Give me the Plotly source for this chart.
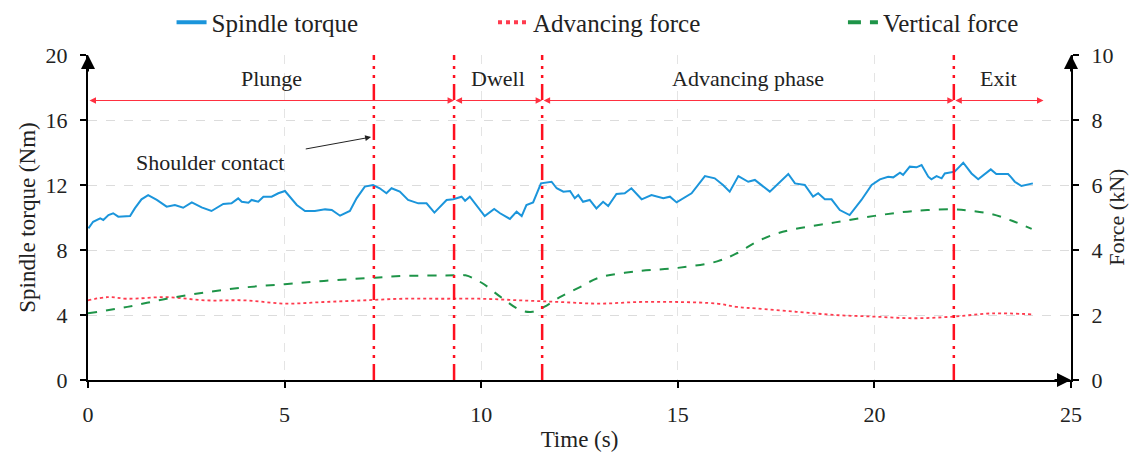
import plotly.graph_objects as go

# ---------------- data ----------------
torque_t = [0.01, 0.13, 0.31, 0.39, 0.52, 0.64, 0.77, 1.07, 1.19, 1.36, 1.53, 1.75, 2.00, 2.21, 2.42,
            2.64, 2.89, 3.14, 3.44, 3.65, 3.82, 3.91, 4.08, 4.16, 4.33, 4.46, 4.67, 4.84, 5.01, 5.14,
            5.31, 5.52, 5.77, 6.03, 6.20, 6.41, 6.66, 6.83, 7.04, 7.25, 7.42, 7.59, 7.72, 7.93, 8.14,
            8.40, 8.61, 8.81, 9.12, 9.29, 9.50, 9.59, 9.71, 10.09, 10.33, 10.48, 10.73, 10.90, 11.03,
            11.15, 11.32, 11.52, 11.79, 11.92, 12.09, 12.26, 12.38, 12.47, 12.59, 12.76, 12.93, 13.10,
            13.23, 13.44, 13.65, 13.82, 14.08, 14.33, 14.63, 14.80, 14.97, 15.35, 15.69, 15.94, 16.15,
            16.32, 16.54, 16.79, 16.96, 17.34, 17.81, 17.98, 18.23, 18.44, 18.57, 18.74, 18.91, 19.12,
            19.37, 19.67, 19.93, 20.14, 20.35, 20.48, 20.65, 20.73, 20.90, 21.07, 21.20, 21.37, 21.45,
            21.58, 21.71, 21.79, 22.04, 22.26, 22.47, 22.64, 22.96, 23.10, 23.40, 23.48, 23.57, 23.74,
            23.87, 24.03]
torque_v = [9.33, 9.74, 9.95, 9.85, 10.15, 10.26, 10.05, 10.09, 10.56, 11.12, 11.38, 11.08, 10.67, 10.77,
            10.60, 10.93, 10.62, 10.40, 10.83, 10.87, 11.18, 10.97, 10.91, 11.08, 10.97, 11.28, 11.28,
            11.49, 11.63, 11.28, 10.77, 10.40, 10.40, 10.50, 10.46, 10.11, 10.40, 11.18, 11.90, 12.00,
            11.80, 11.49, 11.80, 11.59, 11.08, 10.87, 10.87, 10.30, 11.08, 11.12, 11.28, 11.03, 11.28,
            10.09, 10.52, 10.26, 9.91, 10.36, 10.09, 10.77, 10.93, 12.10, 12.20, 11.80, 11.59, 11.63,
            11.18, 11.38, 10.97, 11.08, 10.56, 10.97, 10.71, 11.45, 11.49, 11.80, 11.12, 11.38, 11.18,
            11.28, 10.93, 11.49, 12.55, 12.41, 12.00, 11.59, 12.55, 12.20, 12.31, 11.59, 12.68, 12.10,
            12.00, 11.28, 11.49, 11.12, 11.12, 10.46, 10.15, 11.08, 12.00, 12.35, 12.51, 12.47, 12.76,
            12.62, 13.13, 13.09, 13.23, 12.51, 12.35, 12.55, 12.41, 12.71, 12.82, 13.37, 12.71, 12.35,
            12.96, 12.68, 12.68, 12.47, 12.20, 11.94, 12.00, 12.10]

vert_t = [0, 1, 2, 3, 4, 5, 6, 7.3, 8, 9.3, 9.6, 10, 10.5, 11, 11.3, 11.6, 12, 12.5, 13, 14, 15, 16,
          16.5, 17, 17.5, 18, 19, 20, 21, 22, 22.5, 23, 23.5, 24]
vert_v = [2.05, 2.25, 2.5, 2.7, 2.85, 2.95, 3.05, 3.15, 3.2, 3.22, 3.22, 3.0, 2.55, 2.15, 2.1, 2.25,
          2.55, 2.85, 3.15, 3.35, 3.45, 3.65, 3.9, 4.25, 4.5, 4.65, 4.85, 5.05, 5.2, 5.25, 5.2, 5.1,
          4.9, 4.65]

adv_t = [0, 0.5, 1, 2, 3, 4, 5, 6, 7, 8, 9, 10, 11, 12, 13, 14, 15, 16, 16.5, 17, 18, 19, 20, 21,
         22, 23, 24]
adv_v = [2.45, 2.55, 2.5, 2.55, 2.45, 2.45, 2.35, 2.4, 2.45, 2.5, 2.5, 2.5, 2.45, 2.4, 2.35, 2.4,
         2.4, 2.35, 2.25, 2.2, 2.1, 2.0, 1.95, 1.9, 1.95, 2.05, 2.02]

phase_bounds = [7.27, 9.31, 11.55, 22.02]
phase_names = ["Plunge", "Dwell", "Advancing phase", "Exit"]
phase_start = [0.0, 9.31, 11.55, 22.02]
phase_end = [9.31, 11.55, 22.02, 24.3]

x_ticks = [0, 5, 10, 15, 20, 25]
y_ticks = [0, 4, 8, 12, 16, 20]
y2_ticks = [0, 2, 4, 6, 8, 10]

FONT = "Liberation Serif"
C_TORQUE = "#1b95db"
C_ADV = "#ff3b4e"
C_VERT = "#1e9448"
TXT = "#222"

fig = go.Figure()
fig.add_trace(go.Scatter(x=torque_t, y=torque_v, mode="lines", name="Spindle torque", showlegend=False,
                         line=dict(color=C_TORQUE, width=2)))
fig.add_trace(go.Scatter(x=adv_t, y=adv_v, mode="lines", name="Advancing force", yaxis="y2",
                         showlegend=False,
                         line=dict(color=C_ADV, width=1.8, dash="dot", shape="spline")))
fig.add_trace(go.Scatter(x=vert_t, y=vert_v, mode="lines", name="Vertical force", yaxis="y2",
                         showlegend=False,
                         line=dict(color=C_VERT, width=2, dash="dash", shape="spline")))
# legend entries (thicker samples, as in the original legend)
fig.add_trace(go.Scatter(x=[None], y=[None], mode="lines", name="Spindle torque", legend="legend",
                         line=dict(color=C_TORQUE, width=4)))
fig.add_trace(go.Scatter(x=[None], y=[None], mode="lines", name="Advancing force", legend="legend2",
                         line=dict(color=C_ADV, width=4, dash="4px,4px")))
fig.add_trace(go.Scatter(x=[None], y=[None], mode="lines", name="Vertical force", legend="legend3",
                         line=dict(color=C_VERT, width=4, dash="13px,9px")))

shapes = []
for b in phase_bounds:
    shapes.append(dict(type="line", xref="x", yref="y", x0=b, x1=b, y0=0, y1=20,
                       line=dict(color="#ff1020", width=2.5, dash="16px,6px,3px,6px,3px,6px")))

annotations = []
arrow_y = 17.2
for s, e, name in zip(phase_start, phase_end, phase_names):
    annotations.append(dict(x=e, y=arrow_y, ax=s, ay=arrow_y, xref="x", yref="y", axref="x", ayref="y",
                            text="", showarrow=True, arrowside="end+start", arrowhead=2,
                            startarrowhead=2, arrowsize=1.3, startarrowsize=1.3, arrowwidth=1,
                            arrowcolor="#ff3040", standoff=0, startstandoff=0))
    annotations.append(dict(x=(s + e) / 2, y=18.55, xref="x", yref="y", text=name, showarrow=False,
                            font=dict(family=FONT, size=22, color=TXT)))

annotations.append(dict(x=3.1, y=13.4, xref="x", yref="y", text="Shoulder contact", showarrow=False,
                        font=dict(family=FONT, size=22, color=TXT)))
annotations.append(dict(x=7.2, y=14.95, ax=5.5, ay=14.2, xref="x", yref="y", axref="x", ayref="y",
                        text="", showarrow=True, arrowhead=2, arrowsize=1.2, arrowwidth=1,
                        arrowcolor=TXT))
# right axis title
annotations.append(dict(x=1.046, y=0.5, xref="paper", yref="paper", text="Force (kN)", textangle=-90,
                        showarrow=False, xanchor="center", yanchor="middle",
                        font=dict(family=FONT, size=22, color=TXT)))
# axis arrows
annotations.append(dict(x=0, y=20, xref="x", yref="y", ax=0, ay=18, text="", showarrow=True,
                        arrowhead=2, arrowsize=1.4, arrowwidth=2, arrowcolor="black"))
annotations.append(dict(x=25, y=20, xref="x", yref="y", ax=0, ay=18, text="", showarrow=True,
                        arrowhead=2, arrowsize=1.4, arrowwidth=2, arrowcolor="black"))
annotations.append(dict(x=25, y=0, xref="x", yref="y", ax=-18, ay=0, text="", showarrow=True,
                        arrowhead=2, arrowsize=1.4, arrowwidth=2, arrowcolor="black"))

axis_common = dict(showline=True, linecolor="black", linewidth=2, ticks="outside", ticklen=6,
                   tickwidth=1.5, tickcolor="black", zeroline=False, ticklabelstandoff=8,
                   tickfont=dict(family=FONT, size=22, color=TXT))

leg_common = dict(orientation="h", xanchor="left", y=1.10, yanchor="middle",
                  font=dict(family=FONT, size=25, color=TXT), bgcolor="rgba(0,0,0,0)")

fig.update_layout(
    width=1129, height=446,
    margin=dict(l=80, r=66, t=47, b=74, autoexpand=False),
    paper_bgcolor="white", plot_bgcolor="white",
    font=dict(family=FONT, color=TXT),
    showlegend=True,
    legend=dict(x=0.085, **leg_common),
    legend2=dict(x=0.412, **leg_common),
    legend3=dict(x=0.768, **leg_common),
    xaxis=dict(range=[0, 25], tickvals=x_ticks, showgrid=True, gridcolor="#e4e4e4", griddash="dash",
               title=dict(text="Time (s)", font=dict(family=FONT, size=23, color=TXT), standoff=4),
               **axis_common),
    yaxis=dict(range=[0, 20], tickvals=y_ticks, showgrid=True, gridcolor="#dcdcdc", griddash="dash",
               title=dict(text="Spindle torque (Nm)", font=dict(family=FONT, size=23, color=TXT),
                          standoff=4),
               **axis_common),
    yaxis2=dict(range=[0, 10], tickvals=y2_ticks, overlaying="y", side="right", anchor="x",
                showgrid=False, **axis_common),
    shapes=shapes,
    annotations=annotations,
)

fig.write_html("out.html")
